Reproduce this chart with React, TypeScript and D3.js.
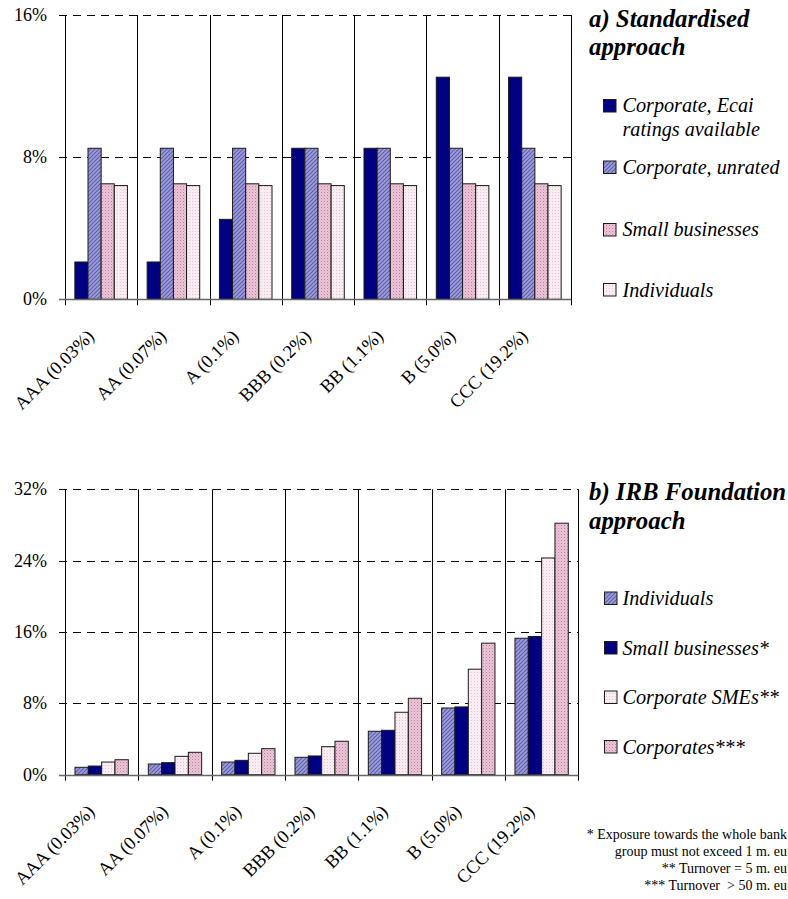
import React from "react";
import * as d3 from "d3";

const categories = ["AAA (0.03%)", "AA (0.07%)", "A (0.1%)", "BBB (0.2%)", "BB (1.1%)", "B (5.0%)", "CCC (19.2%)"];

// Chart a) Standardised approach
const seriesA = ["Corporate, Ecai ratings available", "Corporate, unrated", "Small businesses", "Individuals"];
const corpEcai = [2.1, 2.1, 4.5, 8.5, 8.5, 12.5, 12.5];
const corpUnrated = [8.5, 8.5, 8.5, 8.5, 8.5, 8.5, 8.5];
const smallBizA = [6.5, 6.5, 6.5, 6.5, 6.5, 6.5, 6.5];
const individualsA = [6.4, 6.4, 6.4, 6.4, 6.4, 6.4, 6.4];
const ticksA = [0, 8, 16];

// Chart b) IRB Foundation approach
const seriesB = ["Individuals", "Small businesses*", "Corporate SMEs**", "Corporates***"];
const individualsB = [0.83, 1.2, 1.42, 1.95, 4.87, 7.48, 15.3];
const smallBizB = [0.97, 1.35, 1.61, 2.1, 4.98, 7.6, 15.5];
const corpSME = [1.42, 2.06, 2.4, 3.14, 7.0, 11.83, 24.3];
const corporates = [1.68, 2.51, 2.92, 3.75, 8.57, 14.75, 28.2];
const ticksB = [0, 8, 16, 24, 32];

const footnotes = [
  "* Exposure towards the whole bank",
  "group must not exceed 1 m. eu",
  "** Turnover = 5 m. eu",
  "*** Turnover  > 50 m. eu",
];

const FONT = "Liberation Serif, Times New Roman, DejaVu Serif, serif";

type Panel = {
  values: number[][];
  fills: string[];
  ticks: number[];
  yMax: number;
  left: number;
  right: number;
  top: number;
  bottom: number;
};

function ChartPanel({ p }: { p: Panel }) {
  const x0 = d3.scaleBand<string>().domain(categories).range([p.left, p.right]).padding(0);
  const x1 = d3
    .scaleBand<number>()
    .domain([0, 1, 2, 3])
    .range([0, x0.bandwidth()])
    .paddingInner(0)
    .paddingOuter(0.75);
  const y = d3.scaleLinear().domain([0, p.yMax]).range([p.bottom, p.top]);
  const r = (v: number) => Math.round(v) + 0.5;
  const boundaries = categories.map((c) => x0(c)!).concat([p.right]);
  return (
    <g>
      {p.ticks
        .filter((t) => t > 0)
        .map((t) => (
          <line
            key={"h" + t}
            x1={p.left - 6}
            x2={p.right}
            y1={r(y(t))}
            y2={r(y(t))}
            stroke="#000"
            strokeWidth={1}
            strokeDasharray="8,6"
          />
        ))}
      {boundaries.map((b, i) => (
        <line key={"v" + i} x1={r(b)} x2={r(b)} y1={y(p.yMax)} y2={p.bottom + 6} stroke="#000" strokeWidth={1} />
      ))}
      {categories.map((c, ci) =>
        p.values.map((vals, si) => {
          const bx = x0(c)! + x1(si)!;
          const by = y(vals[ci]);
          return (
            <rect
              key={c + si}
              x={bx}
              y={by}
              width={x1.bandwidth()}
              height={p.bottom - by}
              fill={p.fills[si]}
              stroke="#1a1a1a"
              strokeWidth={1}
            />
          );
        })
      )}
      <line x1={p.left - 6} x2={p.right} y1={r(p.bottom)} y2={r(p.bottom)} stroke="#666" strokeWidth={1.6} />
      {p.ticks.map((t) => (
        <text key={"t" + t} x={47} y={y(t) + 6} textAnchor="end" style={{ fontFamily: FONT, fontSize: 18 }} fill="#000">
          {t + "%"}
        </text>
      ))}
      {categories.map((c) => {
        const cx = x0(c)! + x0.bandwidth() / 2 - 6;
        const cy = p.bottom + 38;
        return (
          <text
            key={"x" + c}
            transform={`translate(${cx},${cy}) rotate(-45)`}
            textAnchor="end"
            style={{ fontFamily: FONT, fontSize: 18.5 }}
            fill="#000"
          >
            {c}
          </text>
        );
      })}
    </g>
  );
}

function LegendBox({ x, y, fill }: { x: number; y: number; fill: string }) {
  return <rect x={x} y={y} width={12.5} height={12.5} fill={fill} stroke="#1a1a1a" strokeWidth={1} />;
}

export default function App() {
  const navy = "#000080";
  const hatch = "url(#hatch)";
  const pinkDots = "url(#pinkDots)";
  const lightPink = "url(#lightPink)";

  const panelA: Panel = {
    values: [corpEcai, corpUnrated, smallBizA, individualsA],
    fills: [navy, hatch, pinkDots, lightPink],
    ticks: ticksA,
    yMax: 16,
    left: 65,
    right: 571,
    top: 15,
    bottom: 299.3,
  };
  const panelB: Panel = {
    values: [individualsB, smallBizB, corpSME, corporates],
    fills: [hatch, navy, lightPink, pinkDots],
    ticks: ticksB,
    yMax: 32,
    left: 65,
    right: 578.3,
    top: 489.3,
    bottom: 774.7,
  };

  const legendStyle = { fontFamily: FONT, fontSize: 20.2, fontStyle: "italic" as const };
  const titleStyle = { fontFamily: FONT, fontSize: 24.8, fontStyle: "italic" as const, fontWeight: "bold" as const };

  return (
    <svg
      width={788}
      height={899}
      style={{ position: "absolute", left: 0, top: 0, background: "#fff", display: "block" }}
    >
      <defs>
        <pattern id="hatch" patternUnits="userSpaceOnUse" width={4} height={4}>
          <rect width={4} height={4} fill="#9c9cda" />
          <path d="M-1,1 l2,-2 M0,4 l4,-4 M3,5 l2,-2" stroke="#5e5eaa" strokeWidth={1.1} />
        </pattern>
        <pattern id="pinkDots" patternUnits="userSpaceOnUse" width={3} height={3}>
          <rect width={3} height={3} fill="#ecc6d8" />
          <rect width={1} height={1} fill="#b97f9e" />
          <rect x={1.5} y={1.5} width={1} height={1} fill="#cf9ab6" />
        </pattern>
        <pattern id="lightPink" patternUnits="userSpaceOnUse" width={3} height={3}>
          <rect width={3} height={3} fill="#f9ecf3" />
          <rect width={1} height={1} fill="#e2c2d3" />
        </pattern>
      </defs>

      <ChartPanel p={panelA} />
      <ChartPanel p={panelB} />

      <text x={589} y={27} style={titleStyle} fill="#000">a) Standardised</text>
      <text x={589} y={55} style={titleStyle} fill="#000">approach</text>
      <LegendBox x={603.5} y={99.5} fill={navy} />
      <text x={622.5} y={112} style={legendStyle} fill="#000">Corporate, Ecai</text>
      <text x={622.5} y={136} style={legendStyle} fill="#000">ratings available</text>
      <LegendBox x={603.5} y={161} fill={hatch} />
      <text x={622.5} y={173.5} style={legendStyle} fill="#000">{seriesA[1]}</text>
      <LegendBox x={603.5} y={223.5} fill={pinkDots} />
      <text x={622.5} y={236} style={legendStyle} fill="#000">{seriesA[2]}</text>
      <LegendBox x={603.5} y={283.5} fill={lightPink} />
      <text x={622.5} y={296.5} style={legendStyle} fill="#000">{seriesA[3]}</text>

      <text x={589} y={500} style={titleStyle} fill="#000">b) IRB Foundation</text>
      <text x={589} y={529} style={titleStyle} fill="#000">approach</text>
      {seriesB.map((s, i) => {
        const ys = [592, 641.5, 691, 740.5];
        const fills = [hatch, navy, lightPink, pinkDots];
        return (
          <g key={s}>
            <LegendBox x={604.5} y={ys[i]} fill={fills[i]} />
            <text x={622.5} y={ys[i] + 13} style={legendStyle} fill="#000">{s}</text>
          </g>
        );
      })}

      {footnotes.map((f, i) => (
        <text
          key={i}
          x={787}
          y={839 + i * 17}
          textAnchor="end"
          style={{ fontFamily: FONT, fontSize: 14, whiteSpace: "pre" }}
          fill="#000"
        >
          {f}
        </text>
      ))}
    </svg>
  );
}
